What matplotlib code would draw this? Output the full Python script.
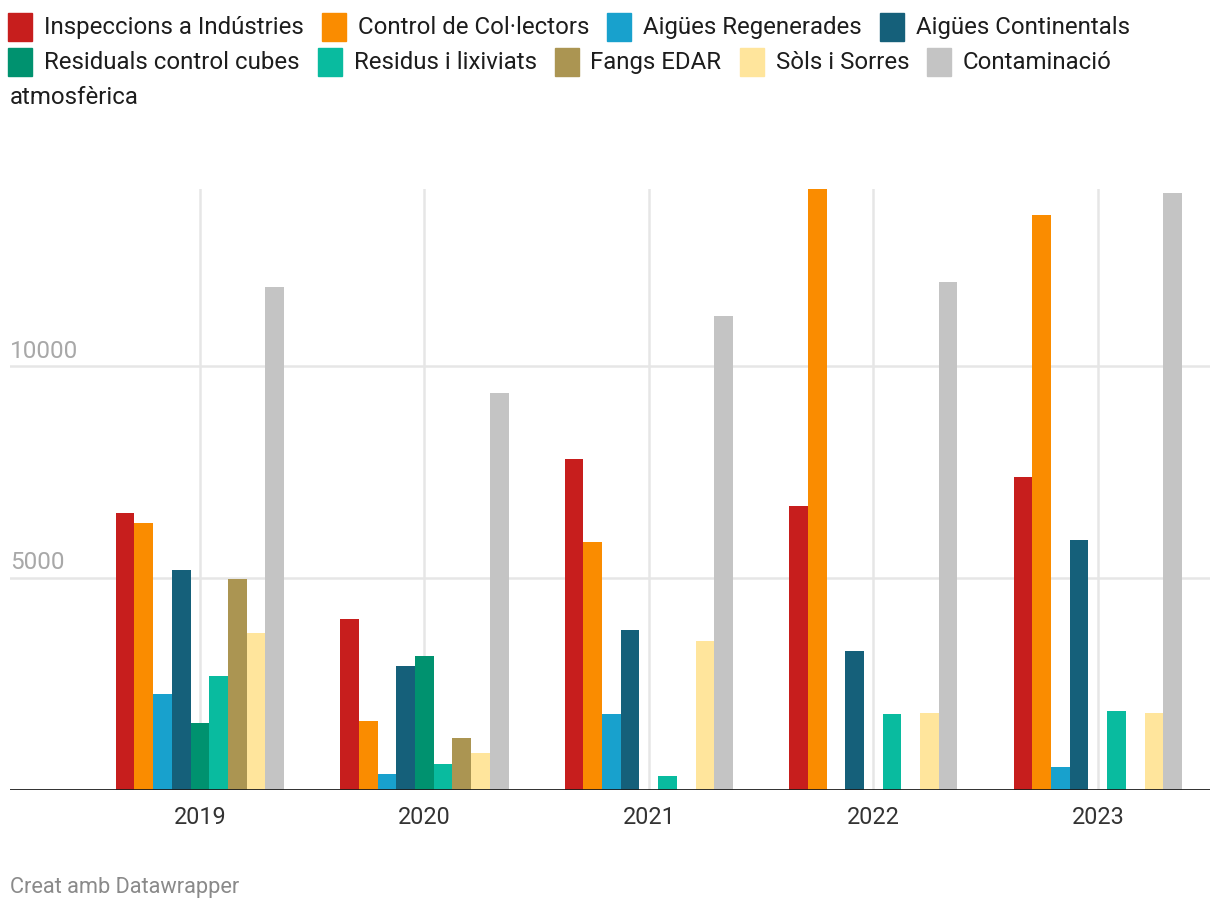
import numpy as np
import matplotlib.pyplot as plt
from matplotlib.patches import Rectangle

plt.rcParams["font.family"] = ["Roboto", "DejaVu Sans"]

years = ["2019", "2020", "2021", "2022", "2023"]
series_names = [
    "Inspeccions a Indústries",
    "Control de Col·lectors",
    "Aigües Regenerades",
    "Aigües Continentals",
    "Residuals control cubes",
    "Residus i lixiviats",
    "Fangs EDAR",
    "Sòls i Sorres",
    "Contaminació atmosfèrica",
]
colors = ["#c71e1d", "#fa8c00", "#18a1cd", "#15607a", "#00926f",
          "#09bb9f", "#ab9552", "#ffe59c", "#c4c4c4"]

inspeccions = [6530, 4040, 7820, 6690, 7380]
collectors = [6310, 1630, 5840, 14180, 13570]
regenerades = [2270, 380, 1800, 0, 540]
continentals = [5180, 2930, 3780, 3290, 5890]
residuals_cubes = [1580, 3170, 0, 0, 0]
residus = [2700, 620, 330, 1800, 1870]
fangs = [4990, 1230, 0, 0, 0]
sols = [3710, 880, 3520, 1820, 1820]
contaminacio = [11870, 9360, 11180, 11990, 14090]

values = [inspeccions, collectors, regenerades, continentals, residuals_cubes,
          residus, fangs, sols, contaminacio]

W, H = 1220, 912
fig = plt.figure(figsize=(W / 100, H / 100), dpi=100)
ax = fig.add_axes([10 / W, (H - 791) / H, 1200 / W, 601 / H])

x = np.arange(len(years))
n = len(values)
group = 0.75
bw = group / n
for i, (vals, col) in enumerate(zip(values, colors)):
    offs = -group / 2 + bw * (i + 0.5)
    ax.bar(x + offs, vals, width=bw, color=col, linewidth=0, zorder=3)

ax.set_xlim(-0.846, 4.5)
ax.set_ylim(0, max(collectors))
for v in [5000, 10000]:
    ax.axhline(v, color="#e6e6e6", linewidth=1.8, zorder=1)
    ax.text(0, v + 110, str(v), transform=ax.get_yaxis_transform(),
            ha="left", va="bottom", fontsize=17.5, color="#a8a8a8")
for xi in x:
    ax.axvline(xi, color="#e6e6e6", linewidth=1.8, zorder=1)
ax.axhline(0, color="#1d1d1d", linewidth=2, zorder=4)

for s in ax.spines.values():
    s.set_visible(False)
ax.set_yticks([])
ax.set_xticks(x)
ax.set_xticklabels(years, fontsize=16.8, color="#333333")
ax.tick_params(axis="x", length=0, pad=11)

# legend laid out as wrapped inline text
fig.canvas.draw()
renderer = fig.canvas.get_renderer()
fs = 17.3
line_y = [28, 63, 98]
row = 0
cx = 8
right = 1212


def text_width(s):
    t = fig.text(0, 0, s, fontsize=fs)
    w = t.get_window_extent(renderer).width
    t.remove()
    return w


def put(xp, yc, s):
    fig.text(xp / W, 1 - (yc + 6) / H, s, fontsize=fs,
             color="#1d1d1d", va="baseline", ha="left")


for name, col in zip(series_names, colors):
    full_w = 24 + 12 + text_width(name)
    if cx + full_w > right and cx + 24 + 12 + text_width(name.split()[0]) > right:
        row += 1
        cx = 8
    yc = line_y[row]
    fig.patches.append(Rectangle((cx / W, 1 - (yc + 14) / H), 24 / W, 28 / H,
                                 transform=fig.transFigure, color=col))
    tx = cx + 36
    words = name.split()
    first = []
    while words:
        trial = " ".join(first + [words[0]])
        if tx + text_width(trial) > right:
            break
        first.append(words.pop(0))
    put(tx, yc, " ".join(first))
    cx = tx + text_width(" ".join(first)) + 18
    if words:
        row += 1
        rest = " ".join(words)
        put(10, line_y[row], rest)
        cx = 10 + text_width(rest) + 18

fig.text(10 / W, 1 - 888 / H, "Creat amb Datawrapper", fontsize=15.7,
         color="#8a8a8a", va="center", ha="left")

fig.savefig("out.png", dpi=100, facecolor="white")
